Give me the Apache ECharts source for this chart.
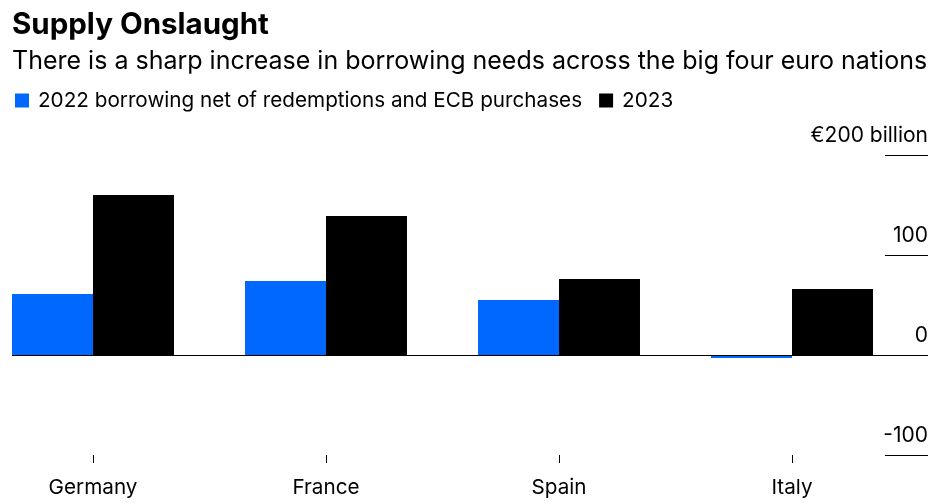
<!DOCTYPE html>
<html>
<head>
<meta charset="utf-8">
<script src="https://cdn.jsdelivr.net/npm/echarts@6/dist/echarts.min.js"></script>
<style>
html,body{margin:0;padding:0;background:#fff;}
#chart{width:951px;height:503px;}
</style>
</head>
<body>
<div id="chart"></div>
<script>
var countries = ['Germany', 'France', 'Spain', 'Italy'];
var borrowing2022 = [61, 74, 55, -3];
var borrowing2023 = [160, 139, 76, 66];
var yTicks = [-100, 0, 100, 200];
var seriesNames = ['2022 borrowing net of redemptions and ECB purchases', '2023'];

var FONT = 'Inter';
var chart = echarts.init(document.getElementById('chart'));
var idx = countries.map(function (c, i) { return i; });

chart.setOption({
  animation: false,
  backgroundColor: '#fff',
  title: [
    { text: 'Supply Onslaught', left: 12, top: 10, padding: 0,
      textStyle: { fontFamily: FONT, fontSize: 29.5, fontWeight: 'bold', color: '#000' } },
    { text: 'There is a sharp increase in borrowing needs across the big four euro nations', left: 12, top: 49, padding: 0,
      textStyle: { fontFamily: FONT, fontSize: 25, fontWeight: 'normal', color: '#000' } }
  ],
  legend: {
    left: 15, top: 90, padding: 0, itemWidth: 14, itemHeight: 14, itemGap: 17,
    icon: 'rect',
    data: seriesNames,
    textStyle: { fontFamily: FONT, fontSize: 20.7, color: '#000', padding: [0, 0, 0, 4] }
  },
  grid: { left: 12, right: 23, top: 155, bottom: 48, containLabel: false },
  xAxis: {
    type: 'value',
    min: -0.3476, max: 3.5837,
    axisLine: { show: false, onZero: false },
    splitLine: { show: false },
    axisTick: { show: true, length: 8, customValues: idx, lineStyle: { color: '#000', width: 1 } },
    axisLabel: {
      customValues: idx, margin: 22,
      formatter: function (v) { return countries[Math.round(v)]; },
      fontFamily: FONT, fontSize: 20.7, color: '#000'
    }
  },
  yAxis: {
    type: 'value', position: 'right',
    min: yTicks[0], max: yTicks[yTicks.length - 1], interval: 100,
    axisLine: { show: false, onZero: false },
    splitLine: { show: false },
    axisTick: { show: true, inside: true, length: 43, lineStyle: { color: '#000', width: 1 } },
    axisLabel: {
      inside: true, margin: 0, align: 'right', verticalAlign: 'bottom',
      padding: [0, 0, 9, 0],
      fontFamily: FONT, fontSize: 21, color: '#000',
      formatter: function (v) { return v === 200 ? '€200 billion' : String(v); }
    }
  },
  series: [
    {
      name: seriesNames[0], type: 'bar', barWidth: 81, barGap: '0%',
      itemStyle: { color: '#0068ff' },
      data: idx.map(function (i) { return [i, borrowing2022[i]]; }),
      markLine: {
        silent: true, symbol: ['none', 'none'], label: { show: false },
        lineStyle: { color: '#000', width: 1, type: 'solid' },
        data: [{ yAxis: 0 }]
      }
    },
    {
      name: seriesNames[1], type: 'bar', barWidth: 81, barGap: '0%',
      itemStyle: { color: '#000' },
      data: idx.map(function (i) { return [i, borrowing2023[i]]; })
    }
  ]
});
</script>
</body>
</html>
